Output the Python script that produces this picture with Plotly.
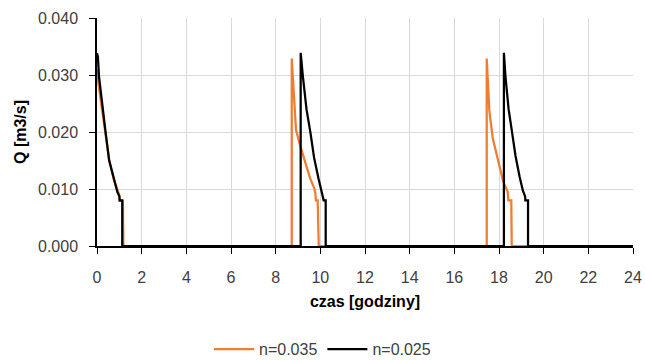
import plotly.graph_objects as go

# n=0.035 series (orange)
t_035 = [0, 0.08, 0.24, 0.4, 0.56, 0.76, 0.93, 1.02, 1.03, 1.16, 1.18,
         8.72, 8.72, 8.79, 8.87, 8.91, 9.09, 9.31, 9.54, 9.73, 9.78, 9.80, 9.88, 9.93,
         17.45, 17.45, 17.57, 17.72, 17.97, 18.19, 18.39, 18.42, 18.55, 18.57, 24]
q_035 = [0.031, 0.028, 0.0235, 0.019, 0.0148, 0.0116, 0.0095, 0.0087, 0.0079, 0.0079, 0,
         0, 0.0329, 0.0277, 0.0236, 0.0204, 0.0177, 0.0148, 0.0119, 0.0101, 0.0092, 0.0080, 0.0080, 0,
         0, 0.0329, 0.0236, 0.0189, 0.0148, 0.0113, 0.0095, 0.0080, 0.0080, 0, 0]

# n=0.025 series (black)
t_025 = [0, 0.04, 0.09, 0.24, 0.39, 0.54, 0.76, 0.91, 1.0, 1.01, 1.13, 1.13,
         9.12, 9.12, 9.22, 9.38, 9.56, 9.72, 9.92, 10.06, 10.14, 10.15, 10.24, 10.24,
         18.22, 18.22, 18.29, 18.43, 18.59, 18.74, 18.92, 19.07, 19.17, 19.18, 19.3, 19.3, 24]
q_025 = [0.0338, 0.0332, 0.0297, 0.0244, 0.0198, 0.0151, 0.0116, 0.0095, 0.0087, 0.0080, 0.0080, 0,
         0, 0.0339, 0.0297, 0.0240, 0.0198, 0.0155, 0.0118, 0.0095, 0.0087, 0.0080, 0.0080, 0,
         0, 0.0339, 0.0297, 0.0240, 0.0198, 0.0158, 0.0122, 0.0097, 0.0087, 0.0080, 0.0080, 0, 0]

series_names = ["n=0.035", "n=0.025"]
x_ticks = list(range(0, 25, 2))
y_ticks = [0.0, 0.01, 0.02, 0.03, 0.04]

font_family = "Liberation Sans, Arial, sans-serif"
tick_color = "#404040"

fig = go.Figure()
fig.add_trace(go.Scatter(x=t_035, y=q_035, mode="lines", name=series_names[0],
                         line=dict(color="#ED7D31", width=2.25)))
fig.add_trace(go.Scatter(x=t_025, y=q_025, mode="lines", name=series_names[1],
                         line=dict(color="#000000", width=2.25)))

fig.update_layout(
    width=645, height=360,
    margin=dict(l=97, r=12, t=18, b=114, autoexpand=False),
    paper_bgcolor="white", plot_bgcolor="white",
    font=dict(family=font_family, size=16, color=tick_color),
    showlegend=True,
    legend=dict(orientation="h", x=0.5, xanchor="center", xref="container",
                y=0.03, yanchor="middle", yref="container",
                font=dict(size=16, color=tick_color), itemwidth=40,
                tracegroupgap=0),
    xaxis=dict(
        range=[0, 24], tickmode="array", tickvals=x_ticks,
        ticktext=[str(v) for v in x_ticks],
        showgrid=True, gridcolor="#D9D9D9", gridwidth=1,
        showline=True, linecolor="#000000", linewidth=1.5,
        ticks="outside", ticklen=6, tickcolor="#000000",
        ticklabelstandoff=10,
        zeroline=False, automargin=False,
        title=dict(text="<b>czas [godziny]</b>", font=dict(size=16, color="#000000"), standoff=11),
    ),
    yaxis=dict(
        range=[0, 0.04], tickmode="array", tickvals=y_ticks,
        ticktext=["%.3f" % v for v in y_ticks],
        showgrid=True, gridcolor="#D9D9D9", gridwidth=1,
        showline=True, linecolor="#000000", linewidth=1.5,
        ticks="outside", ticklen=6, tickcolor="#000000",
        ticklabelstandoff=8,
        zeroline=False, automargin=False,
        title=dict(text="<b>Q [m3/s]</b>", font=dict(size=16, color="#000000"), standoff=7),
    ),
)

fig.write_html("out.html")
